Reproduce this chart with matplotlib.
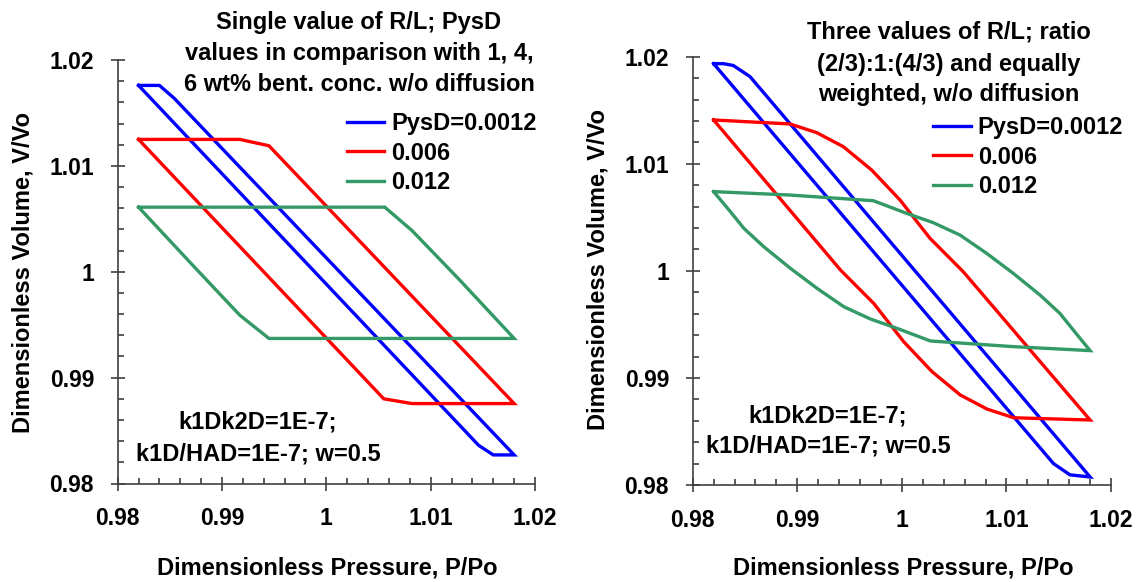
import matplotlib
matplotlib.use("Agg")
import matplotlib.pyplot as plt
from matplotlib.ticker import FixedLocator, MultipleLocator

plt.rcParams['font.family'] = ['Liberation Sans', 'DejaVu Sans']
plt.rcParams['font.weight'] = 'bold'

# ---------------- data ----------------
series_labels = ["PysD=0.0012", "0.006", "0.012"]
series_colors = ["#0000FF", "#FF0000", "#339966"]

# Left panel: single value of R/L (closed hysteresis loops)
L_blue_P = [0.9820, 0.9840, 0.9854, 1.0180, 1.0160, 1.0146, 0.9820]
L_blue_V = [1.0176, 1.0176, 1.0164, 0.9827, 0.9827, 0.9836, 1.0176]
L_red_P = [0.9820, 0.9917, 0.9945, 1.0180, 1.0082, 1.0055, 0.9820]
L_red_V = [1.0125, 1.0125, 1.0119, 0.98755, 0.98755, 0.9880, 1.0125]
L_green_P = [0.9820, 1.0056, 1.0082, 1.0128, 1.0180, 0.9945, 0.9917, 0.9873, 0.9820]
L_green_V = [1.0061, 1.0061, 1.0039, 0.9992, 0.9937, 0.9937, 0.9959, 1.0005, 1.0061]

# Right panel: three values of R/L
R_blue_P = [0.98200, 0.98293, 0.98388, 0.98548, 1.01800, 1.01607, 1.01450, 0.98200]
R_blue_V = [1.01935, 1.01935, 1.01918, 1.01814, 0.98075, 0.98095, 0.98200, 1.01935]
R_red_P = [0.98200, 0.98930, 0.99185, 0.99440, 0.99711, 0.99982, 1.00269, 1.00587, 1.01800,
           1.01070, 1.00815, 1.00560, 1.00289, 1.00018, 0.99731, 0.99413, 0.98200]
R_red_V = [1.01409, 1.01372, 1.01291, 1.01160, 1.00942, 1.00662, 1.00304, 0.99992, 0.98607,
           0.98628, 0.98709, 0.98840, 0.99058, 0.99338, 0.99696, 1.00008, 1.01409]
R_green_P = [0.98200, 0.98930, 0.99727, 1.00046, 1.00300, 1.00555, 1.00810, 1.01065, 1.01320,
             1.01511, 1.01639, 1.01800, 1.01070, 1.00273, 0.99954, 0.99700, 0.99445, 0.99190,
             0.98935, 0.98680, 0.98489, 0.98361, 0.98200]
R_green_V = [1.00740, 1.00708, 1.00655, 1.00537, 1.00450, 1.00335, 1.00164, 0.99977, 0.99775,
             0.99603, 0.99448, 0.99255, 0.99292, 0.99345, 0.99463, 0.99550, 0.99665, 0.99836,
             1.00023, 1.00225, 1.00397, 1.00552, 1.00740]

tick_values = [0.98, 0.99, 1.00, 1.01, 1.02]
tick_labels = ["0.98", "0.99", "1", "1.01", "1.02"]

left_title = ["Single value of R/L; PysD", "values in comparison with 1, 4,",
              "6 wt% bent. conc. w/o diffusion"]
right_title = ["Three values of R/L; ratio", "(2/3):1:(4/3) and equally",
               "weighted, w/o diffusion"]
note_lines = ["k1Dk2D=1E-7;", "k1D/HAD=1E-7; w=0.5"]
xlabel = "Dimensionless Pressure, P/Po"
ylabel = "Dimensionless Volume, V/Vo"

# ---------------- figure ----------------
W, H = 1140, 582
fig = plt.figure(figsize=(W / 100, H / 100), dpi=100)


def fx(px):
    return px / W


def fy(py):
    return 1 - py / H


def axes_px(x0, y0, x1, y1):
    return fig.add_axes([fx(x0), fy(y1), fx(x1) - fx(x0), fy(y0) - fy(y1)])


axL = axes_px(117.7, 60, 535, 483.5)
axR = axes_px(692.7, 56.7, 1111, 485)

spine_col = "#404040"
TXT = 17
TICK = 16.5

for ax in (axL, axR):
    ax.set_xlim(0.98, 1.02)
    ax.set_ylim(0.98, 1.02)
    for s in ("top", "right"):
        ax.spines[s].set_visible(False)
    for s in ("left", "bottom"):
        ax.spines[s].set_color(spine_col)
        ax.spines[s].set_linewidth(1.2)
    ax.xaxis.set_major_locator(FixedLocator(tick_values))
    ax.yaxis.set_major_locator(FixedLocator(tick_values))
    ax.set_xticklabels(tick_labels, fontsize=TICK, fontweight="bold")
    ax.set_yticklabels(tick_labels, fontsize=TICK, fontweight="bold")
    ax.xaxis.set_minor_locator(MultipleLocator(0.002))
    ax.yaxis.set_minor_locator(MultipleLocator(0.002))
    ax.tick_params(which="major", direction="inout", length=10, width=1.2,
                   color=spine_col)
    ax.tick_params(which="minor", direction="in", length=4.3, width=1.2,
                   color=spine_col)
    ax.tick_params(axis="x", which="major", pad=12)
    ax.tick_params(axis="y", which="major", pad=12)
    ax.patch.set_alpha(0)

lw = 2.4
for ax, loops in ((axL, [(L_blue_P, L_blue_V), (L_red_P, L_red_V), (L_green_P, L_green_V)]),
                  (axR, [(R_blue_P, R_blue_V), (R_red_P, R_red_V), (R_green_P, R_green_V)])):
    for (P, V), c, lab in zip(loops, series_colors, series_labels):
        ax.plot(P, V, color=c, lw=lw, label=lab, solid_joinstyle="miter", clip_on=False)

# legends
for ax, (lx, ly) in ((axL, (346.7, 112)), (axR, (933, 116))):
    ax.legend(loc="upper left", bbox_to_anchor=(fx(lx), fy(ly)),
              bbox_transform=fig.transFigure, frameon=False,
              prop={"size": TXT, "weight": "bold"}, handlelength=1.6,
              handletextpad=0.3, labelspacing=0.28, borderpad=0, borderaxespad=0)

# titles
for lines, cx, baselines in ((left_title, 359, [28.5, 60, 91]),
                             (right_title, 949, [38, 70.5, 101.5])):
    for t, b in zip(lines, baselines):
        fig.text(fx(cx), fy(b), t, ha="center", va="baseline",
                 fontsize=TXT, fontweight="bold")

# parameter notes
for cx, baselines in ((258, [428, 460]), (828, [422, 453])):
    for t, b in zip(note_lines, baselines):
        fig.text(fx(cx), fy(b), t, ha="center", va="baseline",
                 fontsize=TXT, fontweight="bold")

# axis labels
for cx in (327, 903):
    fig.text(fx(cx), fy(574), xlabel, ha="center", va="baseline",
             fontsize=TXT, fontweight="bold")
for cx, cy in ((23, 272.5), (598, 270)):
    fig.text(fx(cx), fy(cy), ylabel, ha="center", va="center", rotation=90,
             fontsize=TXT, fontweight="bold")

fig.savefig("out.png", dpi=100)
